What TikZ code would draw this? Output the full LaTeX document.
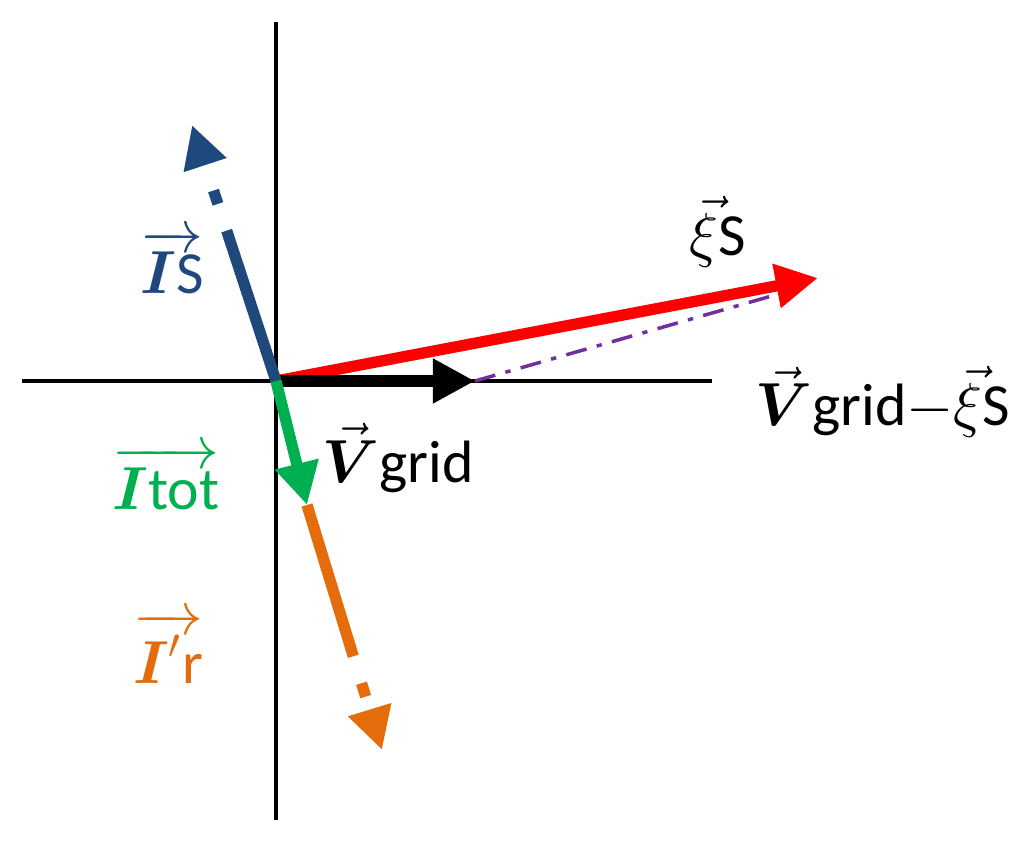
\documentclass[tikz,border=0pt]{standalone}
\usepackage{amsmath}
\usepackage{fontspec}
\setmainfont{Carlito}
\usetikzlibrary{arrows.meta}
\definecolor{vblue}{RGB}{31,73,125}
\definecolor{vgreen}{RGB}{0,176,80}
\definecolor{vorange}{RGB}{228,108,10}
\definecolor{vpurple}{RGB}{112,48,160}
\begin{document}
\begin{tikzpicture}[x=0.01cm,y=-0.01cm,
    phasor/.style={line width=3.2pt,-{Triangle[length=12pt,width=12pt]}},
    lbl/.style={font=\fontsize{17}{20}\selectfont}]
\useasboundingbox (0,0) rectangle (1024,846);
% axes
\coordinate (o) at (276,381);
\draw[line width=1.2pt] (276,22) -- (276,820);
\draw[line width=1.2pt] (22,381) -- (712,381);
% phasors
\coordinate (vg) at (475,381);
\coordinate (xi) at (818,278);
\coordinate (is) at (192,125);
\coordinate (itot) at (307,505);
\coordinate (ir) at (382,750);
\draw[phasor,red] (o) -- (xi);
\draw[vpurple,line width=1pt,dash pattern=on 6pt off 3pt on 1.5pt off 3pt] (vg) -- (775,295);
\draw[phasor,black] (o) -- (vg);
\draw[phasor,vblue,dash pattern=on 45pt off 8pt on 4pt off 8pt] (o) -- (is);
\draw[phasor,vgreen] (o) -- (itot);
\draw[phasor,vorange,dash pattern=on 45pt off 8pt on 4pt off 8pt] (itot) -- (ir);
% labels
\node[lbl] (lxi) at (718,232) {$\vec{\xi}$S};
\node[lbl,vblue] (lis) at (172,262) {$\overrightarrow{\boldsymbol{I}\text{S}}$};
\node[lbl] (lvg) at (398,458) {$\vec{\boldsymbol{V}}$grid};
\node[lbl] (ldiff) at (883,402) {$\vec{\boldsymbol{V}}$grid$-\vec{\xi}$S};
\node[lbl,vgreen] (litot) at (166,478) {$\overrightarrow{\boldsymbol{I}\text{tot}}$};
\node[lbl,vorange] (lir) at (168,648) {$\overrightarrow{\boldsymbol{I}'\text{r}}$};
\end{tikzpicture}
\end{document}
